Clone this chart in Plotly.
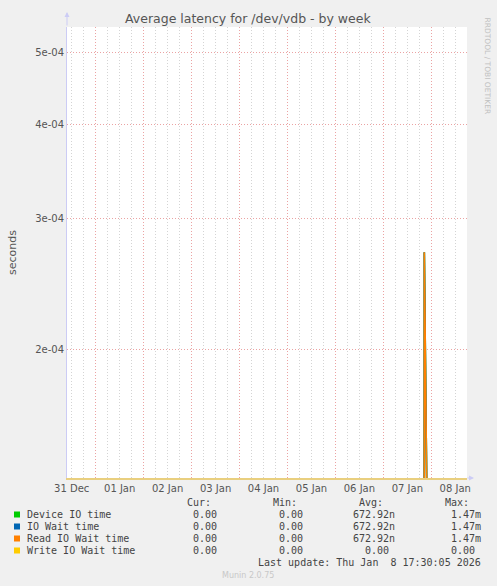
import plotly.graph_objects as go

# munin "diskstats_latency" week graph for /dev/vdb
times = ["2025-12-31 09:30", "2026-01-07 20:00", "2026-01-07 20:30",
         "2026-01-07 21:00", "2026-01-08 17:30"]
device_io = [0.0, 0.0, 2.70e-4, 0.0, 0.0]
io_wait = [0.0, 0.0, 2.70e-4, 0.0, 0.0]
read_wait = [0.0, 0.0, 2.70e-4, 0.0, 0.0]
write_wait = [0.0, 0.0, 0.0, 0.0, 0.0]

series_names = ["Device IO time", "IO Wait time", "Read IO Wait time", "Write IO Wait time"]
series_colors = ["#00CC00", "#0066B3", "#FF8000", "#FFCC00"]
cur_vals = [0.0, 0.0, 0.0, 0.0]
min_vals = [0.0, 0.0, 0.0, 0.0]
avg_vals = [672.92e-9, 672.92e-9, 672.92e-9, 0.0]
max_vals = [1.47e-3, 1.47e-3, 1.47e-3, 0.0]

y_ticks = [2e-4, 3e-4, 4e-4, 5e-4]
y_ticktext = ["2e-04", "3e-04", "4e-04", "5e-04"]

x_start = "2025-12-31 09:38"
x_end = "2026-01-08 17:52"
last_update = "Last update: Thu Jan\u00a0\u00a08 17:30:05 2026"

ZERO_FLOOR = 1e-9  # log axis can't show 0, push it below the visible range

W, H = 497, 586
L, R, T, B = 67, 467, 27, 478


def fx(px):
    return (px - L) / (R - L)


def fy(py):
    return (B - py) / (B - T)


def si(v):
    # rrdtool style "%6.2lf%s"
    if v == 0:
        return "0.00\u00a0"
    for mult, pre in [(1e-9, "n"), (1e-6, "u"), (1e-3, "m"), (1, "\u00a0")]:
        if abs(v) < mult * 1000:
            return "%.2f%s" % (v / mult, pre)
    return "%.2f" % v


fig = go.Figure()

for name, color, vals in zip(series_names, series_colors,
                             [device_io, io_wait, read_wait, write_wait]):
    fig.add_trace(go.Scatter(
        x=times,
        y=[v if v > 0 else ZERO_FLOOR for v in vals],
        mode="lines",
        line=dict(color=color, width=1.6),
        name=name,
        hoverinfo="skip",
    ))

grid_red = "#EBA3A3"
grid_gray = "#D4D4D4"
axis_blue = "#CCCCF5"
tick_font = dict(family="DejaVu Sans", size=10, color="#555555")

fig.update_layout(
    width=W, height=H,
    margin=dict(l=L, r=W - R, t=T, b=H - B),
    paper_bgcolor="#F0F0F0",
    plot_bgcolor="#FFFFFF",
    showlegend=False,
    xaxis=dict(
        type="date",
        range=[x_start, x_end],
        dtick=86400000,
        tick0="2026-01-01",
        tickformat="%d %b",
        ticklabelmode="period",
        ticks="",
        tickfont=tick_font,
        showgrid=True, gridcolor=grid_red, griddash="1px,2px", gridwidth=1,
        minor=dict(dtick=6 * 3600000, tick0="2026-01-01", showgrid=True,
                   gridcolor=grid_gray, griddash="1px,2px", gridwidth=1),
        showline=True, linecolor="#E9CF7F", linewidth=1.5,
        zeroline=False,
        fixedrange=True,
    ),
    yaxis=dict(
        type="log",
        range=[-3.8705, -3.2672],
        tickvals=y_ticks,
        ticktext=y_ticktext,
        ticks="",
        tickfont=tick_font,
        showgrid=True, gridcolor=grid_red, griddash="1px,2px", gridwidth=1,
        showline=True, linecolor=axis_blue, linewidth=1,
        zeroline=False,
        title=dict(text="seconds", font=dict(family="DejaVu Sans", size=11, color="#555555"),
                   standoff=16),
        fixedrange=True,
    ),
)

ann = []
ann.append(dict(x=fx(248), y=fy(19), xref="paper", yref="paper",
                text="Average latency for /dev/vdb - by week", showarrow=False,
                xanchor="center", yanchor="middle",
                font=dict(family="DejaVu Sans", size=12.5, color="#555555")))
ann.append(dict(x=fx(487), y=fy(15), xref="paper", yref="paper",
                text="RRDTOOL / TOBI OETIKER", showarrow=False, textangle=90,
                xanchor="center", yanchor="top",
                font=dict(family="DejaVu Sans", size=7.5, color="#C0C0C0")))
# axis arrows
ann.append(dict(x=0, y=fy(12), xref="paper", yref="paper", ax=0, ay=15,
                text="", showarrow=True, arrowhead=2, arrowsize=1, arrowwidth=1,
                arrowcolor=axis_blue))
ann.append(dict(x=fx(474), y=0, xref="paper", yref="paper", ax=-8, ay=0,
                text="", showarrow=True, arrowhead=2, arrowsize=1, arrowwidth=1,
                arrowcolor=axis_blue))

mono = dict(family="DejaVu Sans Mono", size=10, color="#444444")
col_right = [225, 311, 397, 483]
headers = ["Cur:", "Min:", "Avg:", "Max:"]
for h, cr in zip(headers, col_right):
    ann.append(dict(x=fx(cr - 12.5), y=fy(502.5), xref="paper", yref="paper",
                    text=h, showarrow=False, xanchor="right", yanchor="middle", font=mono))

shapes = []
row_y = [514.5, 526.5, 538.5, 550.5]
for i, name in enumerate(series_names):
    yc = row_y[i]
    shapes.append(dict(type="rect", xref="paper", yref="paper",
                       x0=fx(14), x1=fx(20), y0=fy(yc + 3), y1=fy(yc - 3),
                       fillcolor=series_colors[i], line=dict(width=0)))
    ann.append(dict(x=fx(25), y=fy(yc), xref="paper", yref="paper", text=name,
                    showarrow=False, xanchor="left", yanchor="middle", font=mono))
    for v, cr in zip([cur_vals[i], min_vals[i], avg_vals[i], max_vals[i]], col_right):
        ann.append(dict(x=fx(cr), y=fy(yc), xref="paper", yref="paper", text=si(v),
                        showarrow=False, xanchor="right", yanchor="middle", font=mono))

ann.append(dict(x=fx(483), y=fy(562.5), xref="paper", yref="paper", text=last_update,
                showarrow=False, xanchor="right", yanchor="middle", font=mono))
ann.append(dict(x=fx(248), y=fy(575.5), xref="paper", yref="paper", text="Munin 2.0.75",
                showarrow=False, xanchor="center", yanchor="middle",
                font=dict(family="DejaVu Sans", size=8, color="#C8C8C8")))

fig.update_layout(annotations=ann, shapes=shapes)

# the page's default body margin would shift the chart by 8px
fig.write_html("out.html", config={"displayModeBar": False},
               post_script="document.body.style.margin='0';")
